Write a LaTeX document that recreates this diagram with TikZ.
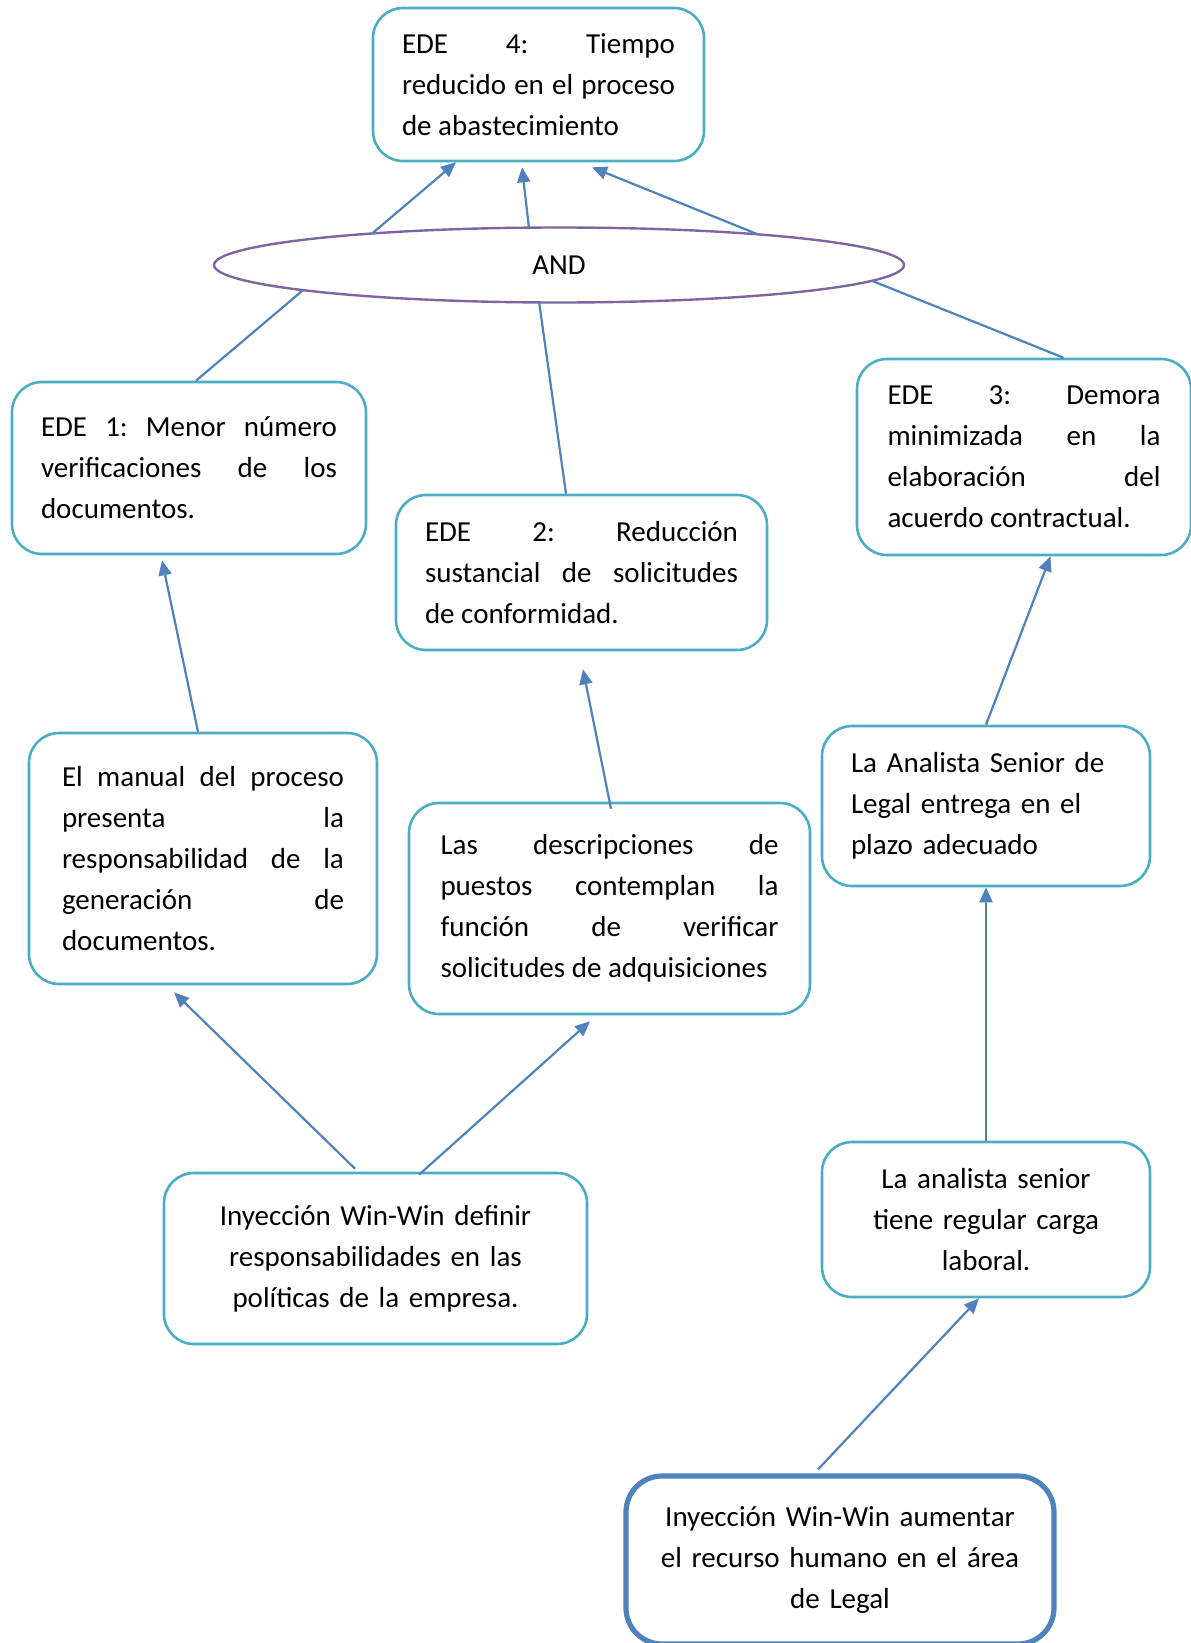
\documentclass[tikz,border=0pt]{standalone}
\usepackage{fontspec}
\setmainfont{Carlito}
\usepackage{tikz}
\usetikzlibrary{arrows.meta, shapes.geometric, calc, positioning}
\definecolor{BoxTeal}  {HTML}{4BACC6}
\definecolor{LinkBlue} {HTML}{4F81BD}
\definecolor{AndViolet}{HTML}{8064A2}
\tikzset{
  link arrow/.style={-{Triangle[length=7.5pt,width=6.5pt]}, line width=1.1pt, LinkBlue},
  link line/.style={line width=1.1pt, LinkBlue},
}
\frenchspacing
\hyphenpenalty=10000
\exhyphenpenalty=10000

\begin{document}
\begin{tikzpicture}[x=0.5pt, y=-0.5pt,
    font=\fontsize{14.5pt}{20.5pt}\selectfont,
    ede/.style={draw=BoxTeal, fill=white, line width=1.3pt, rounded corners=15pt,
                align=justify, inner sep=0pt},
    cause/.style={draw=BoxTeal, fill=white, line width=1.3pt, rounded corners=15pt,
                  align=center, inner sep=0pt},
    inject/.style={draw=LinkBlue, fill=white, line width=2.6pt, rounded corners=18pt,
                   align=center, inner sep=0pt},
    gate/.style={ellipse, draw=AndViolet, fill=white, line width=1.2pt, inner sep=0pt}]
  \useasboundingbox (0,0) rectangle (1190,1643);
  % Nodes
  \node[ede, minimum width=165.5pt, minimum height=76.5pt, text width=136.5pt]
    (ede4) at (538.5, 84.5)
    {EDE 4: Tiempo\linebreak reducido en el proceso\linebreak de abastecimiento};
  \node[gate, minimum width=345pt, minimum height=37.5pt] (and) at (559, 265) {AND};
  \node[ede, minimum width=177pt, minimum height=86pt, text width=148pt]
    (ede1) at (189, 468)
    {EDE 1: Menor número\linebreak verificaciones de los\linebreak documentos.};
  \node[ede, minimum width=185.5pt, minimum height=77.5pt, text width=156.5pt]
    (ede2) at (581.5, 572.5)
    {EDE 2: Reducción\linebreak sustancial de solicitudes\linebreak de conformidad.};
  \node[ede, minimum width=167pt, minimum height=98pt, text width=136.5pt]
    (ede3) at (1024, 457)
    {EDE 3: Demora\linebreak minimizada en la\linebreak elaboración del\linebreak acuerdo contractual.};
  \node[ede, minimum width=174pt, minimum height=125.5pt, text width=141pt]
    (manual) at (203, 858.5)
    {El manual del proceso\linebreak presenta la\linebreak responsabilidad de la\linebreak generación de\linebreak documentos.};
  \node[ede, minimum width=200.5pt, minimum height=105.5pt, text width=169pt]
    (descr) at (609.5, 908.5)
    {Las descripciones de\linebreak puestos contemplan la\linebreak función de verificar\linebreak solicitudes de adquisiciones};
  \node[ede, align=left, minimum width=164pt, minimum height=80pt, text width=135pt]
    (legal) at (986, 806)
    {La Analista Senior de\\Legal entrega en el\\plazo adecuado};
  \node[cause, minimum width=211.5pt, minimum height=85.5pt, text width=190pt]
    (iny1) at (375.5, 1258.5)
    {Inyección Win-Win definir\\responsabilidades en las\\políticas de la empresa.};
  \node[cause, minimum width=164pt, minimum height=77.5pt, text width=140pt]
    (carga) at (986, 1219.5)
    {La analista senior\\tiene regular carga\\laboral.};
  \node[inject, minimum width=214pt, minimum height=84pt, text width=190pt]
    (iny2) at (840, 1560)
    {Inyección Win-Win aumentar\\el recurso humano en el área\\de Legal};
  % Connectors to the AND gate
  \draw[link line] ([xshift=3.5pt]ede1.north) -- ($(and.center)+(137.9:345 and 37.5)$);
  \draw[link line] ([xshift=-7.75pt]ede2.north) -- ($(and.center)+(93.3:345 and 37.5)$);
  \draw[link line] ([xshift=19.75pt]ede3.north) -- ($(and.center)+(24.9:345 and 37.5)$);
  \draw[link arrow] ($(and.center)+(237.2:345 and 37.5)$) -- ([xshift=-41.25pt]ede4.south);
  \draw[link arrow] ($(and.center)+(265:345 and 37.5)$) -- ([xshift=-8.25pt,yshift=-2.5pt]ede4.south);
  \draw[link arrow] ($(and.center)+(305.2:345 and 37.5)$) -- ([xshift=26.75pt,yshift=-2.5pt]ede4.south);
  % Connectors between boxes
  \draw[link arrow] ([xshift=-2.5pt]manual.north) -- ([xshift=-13.5pt,yshift=-2.5pt]ede1.south);
  \draw[link arrow] ([xshift=0.75pt,yshift=-3.5pt]descr.north) -- ([xshift=0.75pt,yshift=-9pt]ede2.south);
  \draw[link arrow] (legal.north) -- ([xshift=13.25pt]ede3.south);
  \draw[link arrow] ([xshift=-10.25pt,yshift=1.5pt]iny1.north) -- ([xshift=-14.5pt,yshift=-3.5pt]manual.south);
  \draw[link arrow] ([xshift=21.75pt,yshift=-1.5pt]iny1.north) -- ([xshift=-9.75pt,yshift=-3pt]descr.south);
  \draw[link arrow] (carga.north) -- (legal.south);
  \draw[link arrow] ([xshift=-11pt,yshift=2pt]iny2.north) -- ([xshift=-3.5pt]carga.south);
\end{tikzpicture}
\end{document}
